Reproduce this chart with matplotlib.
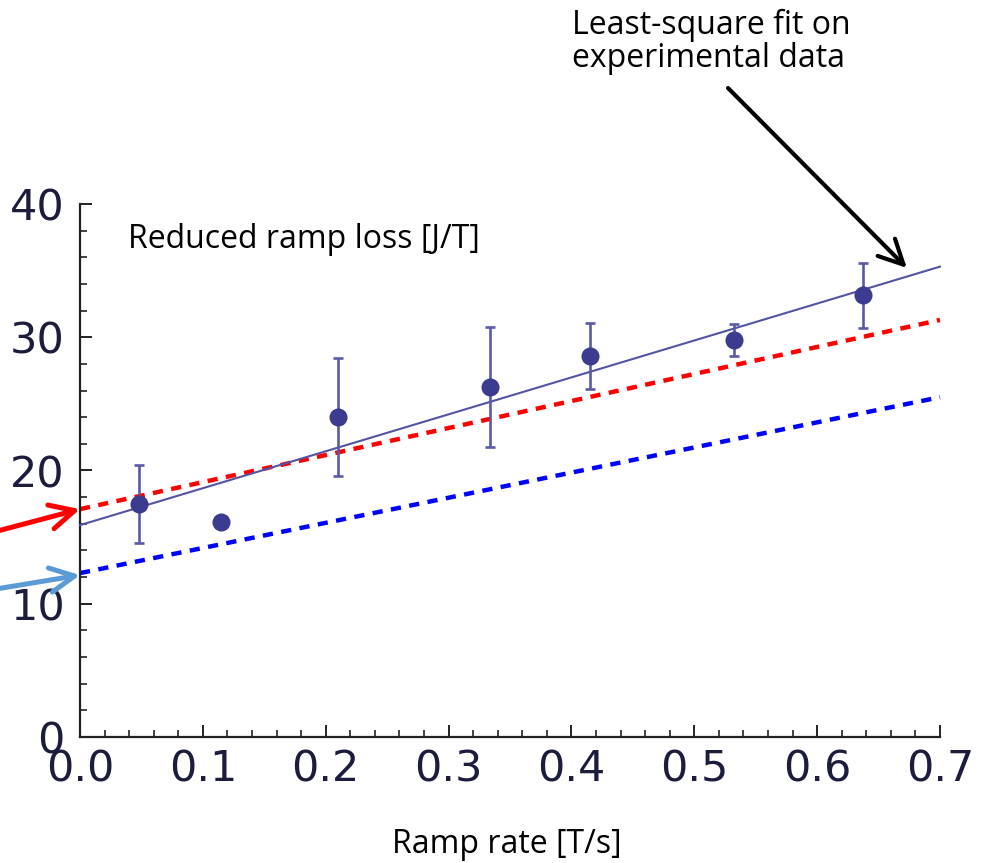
import numpy as np
import matplotlib.pyplot as plt
from matplotlib.ticker import MultipleLocator

ramp_rate = [0.048, 0.115, 0.210, 0.334, 0.415, 0.532, 0.637]
ramp_loss = [17.5, 16.15, 24.0, 26.3, 28.6, 29.8, 33.15]
loss_err = [2.95, 0.35, 4.45, 4.5, 2.5, 1.2, 2.42]

# straight lines, given by their values at x=0 and x=0.7
line_x = [0.0, 0.7]
fit_y = [15.9, 35.3]     # least-square fit on experimental data
red_y = [17.1, 31.3]
blue_y = [12.3, 25.5]

x_ticks = [0.0, 0.1, 0.2, 0.3, 0.4, 0.5, 0.6, 0.7]
x_labels = ["0.0", "0.1", "0.2", "0.3", "0.4", "0.5", "0.6", "0.7"]
y_ticks = [0, 10, 20, 30, 40]
y_labels = ["0", "10", "20", "30", "40"]

W, H = 992, 863
fig = plt.figure(figsize=(W / 100, H / 100), dpi=100)
ax = fig.add_axes([80 / W, 126 / H, 860 / W, 533 / H])

# ---------------- lines ----------------
ax.plot(line_x, red_y, color="#ff0000", lw=3.2, linestyle=(0, (2.3, 1.9)),
        dash_capstyle="butt", zorder=2, clip_on=False)
ax.plot(line_x, blue_y, color="#0000ff", lw=3.2, linestyle=(0, (2.3, 1.9)),
        dash_capstyle="butt", zorder=2, clip_on=False)
ax.plot(line_x, fit_y, color="#5454a4", lw=1.5, zorder=3, clip_on=False)

# ---------------- data with error bars ----------------
ax.errorbar(ramp_rate, ramp_loss, yerr=loss_err, fmt="none", ecolor="#5a5aa8",
            elinewidth=1.9, capsize=3.6, capthick=1.9, zorder=4)
ax.plot(ramp_rate, ramp_loss, "o", color="#3b3b8f", markersize=13,
        markeredgewidth=0, zorder=5)

# ---------------- axes styling ----------------
ax.set_xlim(0, 0.7)
ax.set_ylim(0, 40)
ax.spines["top"].set_visible(False)
ax.spines["right"].set_visible(False)
for s in ["left", "bottom"]:
    ax.spines[s].set_linewidth(1.6)
    ax.spines[s].set_color("#222222")

ax.set_xticks(x_ticks)
ax.set_xticklabels(x_labels)
ax.set_yticks(y_ticks)
ax.set_yticklabels(y_labels)
ax.xaxis.set_minor_locator(MultipleLocator(0.02))
ax.yaxis.set_minor_locator(MultipleLocator(2))
ax.tick_params(which="major", direction="in", length=8.6, width=1.4,
               color="#222222", labelsize=31, labelcolor="#1c1c3c")
ax.tick_params(which="minor", direction="in", length=5, width=1.2, color="#222222")
ax.tick_params(axis="x", pad=8)
ax.tick_params(axis="y", pad=11)

# ---------------- annotations ----------------
txt_font = dict(family=["Open Sans", "DejaVu Sans"], fontsize=23, color="black")
fig.text(711 / W, 1 - 34 / H, "Least-square fit on", ha="center", va="baseline", **txt_font)
fig.text(708 / W, 1 - 67 / H, "experimental data", ha="center", va="baseline", **txt_font)
fig.text(128 / W, 1 - 248 / H, "Reduced ramp loss [J/T]", ha="left", va="baseline", **txt_font)
fig.text(507 / W, 1 - 853 / H, "Ramp rate [T/s]", ha="center", va="baseline", **txt_font)

arrow_style = "->,head_length=1.1,head_width=0.55"
ax.annotate("", xy=(0.0, red_y[0]), xytext=(-10, H - 533), textcoords="figure pixels",
            arrowprops=dict(arrowstyle=arrow_style, color="#ff0000", lw=3.6,
                            shrinkA=0, shrinkB=0, mutation_scale=16),
            annotation_clip=False)
ax.annotate("", xy=(0.0, blue_y[0] - 0.15), xytext=(-10, H - 590), textcoords="figure pixels",
            arrowprops=dict(arrowstyle=arrow_style, color="#5b9bd5", lw=3.6,
                            shrinkA=0, shrinkB=0, mutation_scale=16),
            annotation_clip=False)
ax.annotate("", xy=(0.673, 35.2), xytext=(728, H - 88), textcoords="figure pixels",
            arrowprops=dict(arrowstyle=arrow_style, color="black", lw=3.0,
                            shrinkA=0, shrinkB=0, mutation_scale=16),
            annotation_clip=False)

fig.savefig("out.png", dpi=100)
